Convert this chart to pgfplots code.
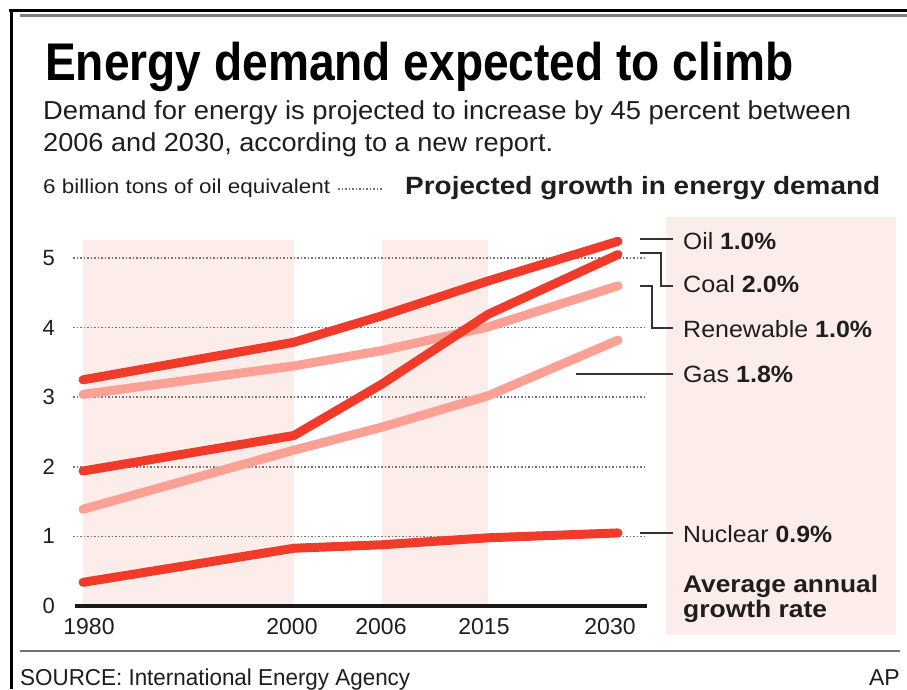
\documentclass[border=0pt]{standalone}
\usepackage{pgfplots}
\pgfplotsset{compat=1.18}
\usepackage{pgfplotstable}
\usepackage{fontspec}
\setmainfont{Liberation Sans}
\usepackage{graphicx}
\definecolor{darkline}{HTML}{F03A2A}
\definecolor{lightline}{HTML}{FAA094}
\definecolor{band}{HTML}{FDEDEA}
\definecolor{txt}{HTML}{1E1E1E}
\newcommand{\fitw}[2]{\resizebox{#1}{\height}{#2}}
\newcommand{\fs}[1]{\fontsize{#1}{#1}\selectfont}

\pgfplotstableread{
x   oil  coal renew gas  nuclear
0   3.25 1.94 3.04  1.39 0.34
211 3.79 2.45 3.45  2.24 0.83
299 4.17 3.19 3.67  2.57 0.88
405 4.67 4.19 4.01  3.02 0.98
535 5.24 5.05 4.60  3.82 1.05
}\energy

\begin{document}
\begin{tikzpicture}
\begin{scope}[x=1pt,y=-1pt]
\fill[white] (0,0) rectangle (907,689);
\fill[band] (666,217) rectangle (896,635);
\end{scope}
\begin{axis}[
  scale only axis,
  x=1pt, y=69.6pt,
  xmin=-10, xmax=564, ymin=0, ymax=5.26,
  at={(73pt,-606pt)}, anchor=south west,
  clip=false,
  axis line style={draw=none},
  major tick length=0pt,
  xtick={6,209,298,401,527},
  xticklabels={1980,2000,2006,2015,2030},
  ytick={0,1,2,3,4,5},
  yticklabels={0,1,2,3,4,5},
  /pgf/number format/assume math mode=true,
  xticklabel style={font=\fs{23}, text=txt, inner sep=0pt, anchor=north, yshift=-12pt},
  yticklabel style={font=\fs{22}, text=txt, inner sep=0pt, anchor=east, xshift=-18pt},
]
\addplot[fill=band, draw=none] coordinates {(0,0) (211,0) (211,5.26) (0,5.26)} --cycle;
\addplot[fill=band, draw=none] coordinates {(299,0) (405,0) (405,5.26) (299,5.26)} --cycle;
\pgfplotsinvokeforeach{1,2,3,4,5}{
  \draw[line width=1.5pt, black!55, dash pattern=on 1.5pt off 2pt] (axis cs:-10,#1) -- (axis cs:564,#1);
}
\draw[line width=3.2pt, black!90] (axis cs:-8,0) -- (axis cs:564,0);
\addplot[lightline, line width=9pt, line cap=round, line join=round, mark=none] table[x=x,y=renew]{\energy};
\addplot[lightline, line width=9pt, line cap=round, line join=round, mark=none] table[x=x,y=gas]{\energy};
\addplot[darkline, line width=9pt, line cap=round, line join=round, mark=none] table[x=x,y=nuclear]{\energy};
\addplot[darkline, line width=9pt, line cap=round, line join=round, mark=none] table[x=x,y=coal]{\energy};
\addplot[darkline, line width=9pt, line cap=round, line join=round, mark=none] table[x=x,y=oil]{\energy};
\end{axis}
\begin{scope}[x=1pt,y=-1pt]
% borders
\draw[line width=3pt, black] (9,10.5) -- (907,10.5);
\draw[line width=3pt, black!50] (20,15.5) -- (907,15.5);
\draw[line width=3.5pt, black] (11.5,9) -- (11.5,689);
\draw[line width=2.5pt, black!55] (20,651) -- (900,651);
% titles
\node[anchor=base west, inner sep=0pt] at (45,80) {\fs{53}\bfseries\fitw{748pt}{Energy demand expected to climb}};
\node[anchor=base west, inner sep=0pt, text=txt] at (43,119) {\fs{26}\fitw{808pt}{Demand for energy is projected to increase by 45 percent between}};
\node[anchor=base west, inner sep=0pt, text=txt] at (43,151) {\fs{26}\fitw{510pt}{2006 and 2030, according to a new report.}};
\node[anchor=base west, inner sep=0pt, text=txt] at (43,193) {\fs{20}\fitw{287pt}{6 billion tons of oil equivalent}};
\draw[line width=1.5pt, black!55, dash pattern=on 1.5pt off 2pt] (338,189) -- (383,189);
\node[anchor=base west, inner sep=0pt, text=txt] at (405,194) {\fs{25}\bfseries\fitw{475pt}{Projected growth in energy demand}};
% leaders
\begin{scope}[line width=1.6pt, black!80]
\draw (640,239) -- (673,239);
\draw (640,253) -- (661,253) -- (661,286) -- (673,286);
\draw (640,286) -- (652,286) -- (652,328) -- (673,328);
\draw (576,374) -- (673,374);
\draw (640,533) -- (673,533);
\end{scope}
% callout labels
\node[anchor=base west, inner sep=0pt, text=txt] at (683,249) {\fs{23.5}\fitw{93pt}{Oil \textbf{1.0\%}}};
\node[anchor=base west, inner sep=0pt, text=txt] at (683,292) {\fs{23.5}\fitw{116pt}{Coal \textbf{2.0\%}}};
\node[anchor=base west, inner sep=0pt, text=txt] at (683,337) {\fs{23.5}\fitw{189pt}{Renewable \textbf{1.0\%}}};
\node[anchor=base west, inner sep=0pt, text=txt] at (683,382) {\fs{23.5}\fitw{110pt}{Gas \textbf{1.8\%}}};
\node[anchor=base west, inner sep=0pt, text=txt] at (683,542) {\fs{23.5}\fitw{149pt}{Nuclear \textbf{0.9\%}}};
\node[anchor=base west, inner sep=0pt, text=txt] at (683,592) {\fs{24}\bfseries\fitw{195pt}{Average annual}};
\node[anchor=base west, inner sep=0pt, text=txt] at (683,617) {\fs{24}\bfseries\fitw{144pt}{growth rate}};
% footer
\node[anchor=base west, inner sep=0pt, text=txt] at (20,685) {\fs{23}\fitw{390pt}{SOURCE: International Energy Agency}};
\node[anchor=base east, inner sep=0pt, text=txt] at (900,685) {\fs{23}AP};
\pgfresetboundingbox
\path[use as bounding box] (0,0) rectangle (907,689);
\end{scope}
\end{tikzpicture}
\end{document}
